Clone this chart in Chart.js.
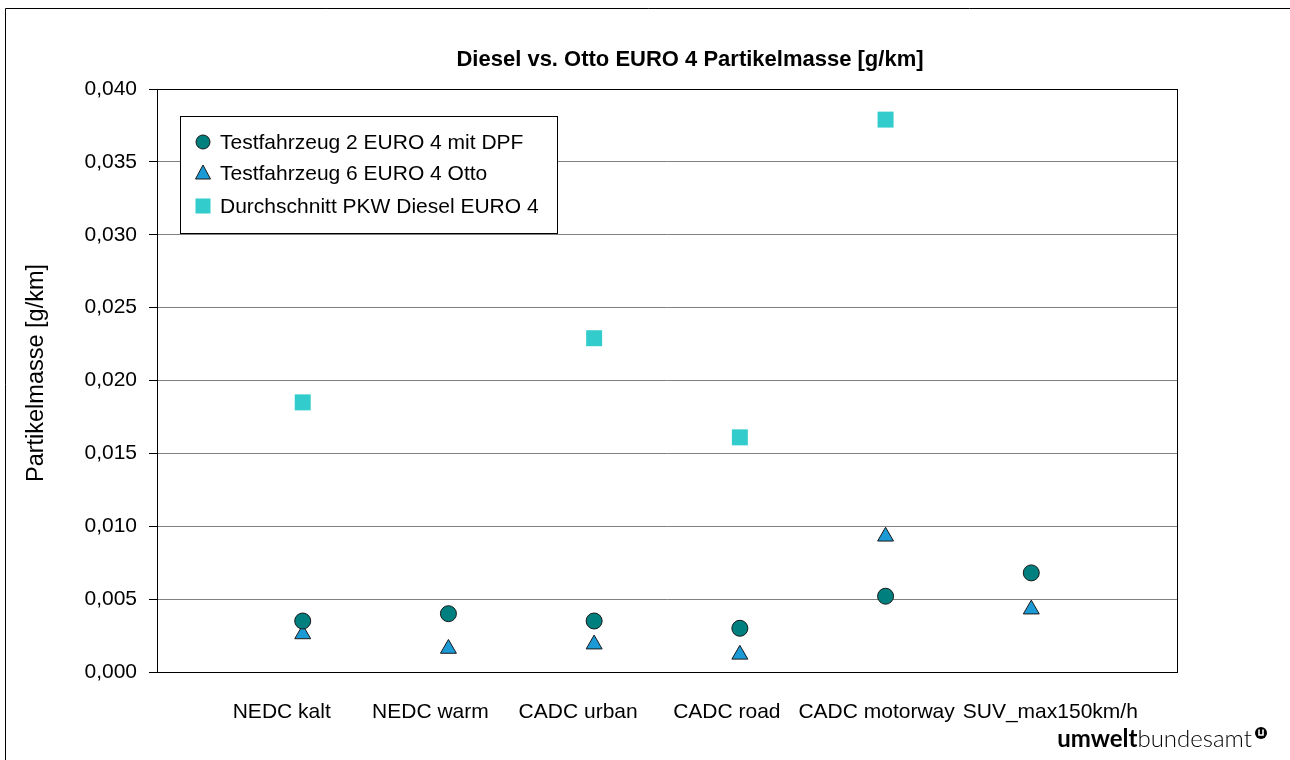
<!DOCTYPE html>
<html>
<head>
<meta charset="utf-8">
<script src="https://cdn.jsdelivr.net/npm/chart.js@4/dist/chart.umd.min.js"></script>
<style>
  html, body { margin: 0; padding: 0; background: #fff; }
  #wrap { width: 1290px; height: 760px; position: relative; }
</style>
</head>
<body>
<div id="wrap"><canvas id="c" width="1290" height="760"></canvas></div>
<script>
const categories = ["NEDC kalt", "NEDC warm", "CADC urban", "CADC road", "CADC motorway", "SUV_max150km/h"];
const seriesNames = ["Testfahrzeug 2 EURO 4 mit DPF", "Testfahrzeug 6 EURO 4 Otto", "Durchschnitt PKW Diesel EURO 4"];
const testfahrzeug2 = [0.0035, 0.0040, 0.0035, 0.0030, 0.0052, 0.0068];
const testfahrzeug6 = [0.0026, 0.0016, 0.0019, 0.0012, 0.0093, 0.0043];
const durchschnittDiesel = [0.0185, null, 0.0229, 0.0161, 0.0379, null];
const yTicks = [0, 0.005, 0.010, 0.015, 0.020, 0.025, 0.030, 0.035, 0.040];
const titleText = "Diesel vs. Otto EURO 4 Partikelmasse [g/km]";
const yTitleText = "Partikelmasse [g/km]";
// horizontal nudges of the category labels relative to their marker column (label layout only)
const labelNudge = [-21, -18, -16, -13, -9, 19];

const FONT = "'Liberation Sans', Arial, sans-serif";
const toPts = arr => arr.map((v, i) => ({ x: i + 1, y: v }));

const decor = {
  id: 'decor',
  beforeDraw(chart) {
    const ctx = chart.ctx;
    ctx.save();
    ctx.fillStyle = '#fff';
    ctx.fillRect(0, 0, chart.width, chart.height);
    ctx.strokeStyle = '#000';
    ctx.lineWidth = 1;
    ctx.beginPath();
    ctx.moveTo(5.5, 770); ctx.lineTo(5.5, 8.5); ctx.lineTo(1295, 8.5);
    ctx.stroke();
    ctx.restore();
  },
  afterDraw(chart) {
    const ctx = chart.ctx;
    const a = chart.chartArea;
    const xs = chart.scales.x;
    ctx.save();
    // plot area border
    ctx.strokeStyle = '#000';
    ctx.lineWidth = 1;
    ctx.strokeRect(Math.round(a.left) + 0.5, Math.round(a.top) + 0.5, Math.round(a.right - a.left), Math.round(a.bottom - a.top));
    // category labels
    ctx.fillStyle = '#000';
    ctx.font = "21px " + FONT;
    ctx.textAlign = 'center';
    ctx.textBaseline = 'middle';
    categories.forEach((c, i) => {
      ctx.fillText(c, xs.getPixelForValue(i + 1) + labelNudge[i], a.bottom + 40);
    });
    // title
    ctx.font = "bold 22px " + FONT;
    ctx.fillText(titleText, 690, 60);
    // y axis title
    ctx.save();
    ctx.translate(37, 373);
    ctx.rotate(-Math.PI / 2);
    ctx.font = "23.5px " + FONT;
    ctx.fillText(yTitleText, 0, 0);
    ctx.restore();
    // legend
    const lx = 180, ly = 116, lw = 377, lh = 117;
    ctx.fillStyle = '#fff';
    ctx.fillRect(lx, ly, lw, lh);
    ctx.strokeStyle = '#000';
    ctx.strokeRect(lx + 0.5, ly + 0.5, lw, lh);
    const ds = chart.data.datasets;
    const rows = [142, 173, 206];
    ctx.font = "21px " + FONT;
    ctx.textAlign = 'left';
    ctx.textBaseline = 'middle';
    ds.forEach((d, i) => {
      const y = rows[i];
      const x = 203;
      ctx.fillStyle = d.backgroundColor;
      ctx.strokeStyle = d.borderColor;
      ctx.lineWidth = d.borderWidth;
      if (d.pointStyle === 'circle') {
        ctx.beginPath(); ctx.arc(x, y, 7, 0, Math.PI * 2); ctx.fill(); ctx.stroke();
      } else if (d.pointStyle === 'triangle') {
        ctx.beginPath(); ctx.moveTo(x, y - 8); ctx.lineTo(x + 7.5, y + 6); ctx.lineTo(x - 7.5, y + 6); ctx.closePath(); ctx.fill(); ctx.stroke();
      } else {
        ctx.fillRect(x - 7.5, y - 7.5, 15, 15);
      }
      ctx.fillStyle = '#000';
      ctx.fillText(d.label, 220, y + 1);
    });
    // logo
    ctx.textBaseline = 'alphabetic';
    ctx.textAlign = 'left';
    const LF = "Lato, 'Noto Sans', sans-serif";
    ctx.font = "bold 24px " + LF;
    const w1 = ctx.measureText('umwelt').width;
    ctx.font = "300 24px " + LF;
    const w2 = ctx.measureText('bundesamt').width;
    const endX = 1252;
    const sx = endX - w1 - w2;
    ctx.fillStyle = '#000';
    ctx.font = "bold 24px " + LF;
    ctx.fillText('umwelt', sx, 747);
    ctx.font = "300 24px " + LF;
    ctx.fillText('bundesamt', sx + w1, 747);
    ctx.beginPath(); ctx.arc(1261, 733, 6, 0, Math.PI * 2); ctx.fill();
    ctx.strokeStyle = '#fff'; ctx.lineWidth = 1.6;
    ctx.beginPath(); ctx.moveTo(1259, 729.5); ctx.lineTo(1259, 735); ctx.lineTo(1263, 735); ctx.lineTo(1263, 729.5); ctx.stroke();
    ctx.restore();
  }
};

new Chart(document.getElementById('c'), {
  type: 'scatter',
  data: {
    datasets: [
      { label: seriesNames[0], data: toPts(testfahrzeug2), pointStyle: 'circle', pointRadius: 8, pointHoverRadius: 8,
        backgroundColor: '#007F7F', borderColor: '#1a1a1a', borderWidth: 1 },
      { label: seriesNames[1], data: toPts(testfahrzeug6), pointStyle: 'triangle', pointRadius: 9.2, pointHoverRadius: 9.2,
        backgroundColor: '#1B9AD6', borderColor: '#1a1a1a', borderWidth: 1 },
      { label: seriesNames[2], data: toPts(durchschnittDiesel), pointStyle: 'rect', pointRadius: 11.3, pointHoverRadius: 11.3,
        backgroundColor: '#33CCCC', borderColor: '#33CCCC', borderWidth: 0 }
    ]
  },
  options: {
    responsive: false,
    animation: false,
    events: [],
    layout: { padding: { left: 0, right: 113, top: 89, bottom: 0 } },
    plugins: { legend: { display: false }, title: { display: false }, tooltip: { enabled: false } },
    scales: {
      x: {
        type: 'linear', min: 0, max: 7,
        afterBuildTicks: s => { s.ticks = categories.map((c, i) => ({ value: i + 1 })); },
        afterFit: s => { s.height = 88; },
        ticks: { display: false },
        grid: { display: false, drawTicks: false },
        border: { color: '#000', width: 1 }
      },
      y: {
        min: 0, max: 0.04,
        afterBuildTicks: s => { s.ticks = yTicks.map(v => ({ value: v })); },
        afterFit: s => { s.width = 157; },
        ticks: { callback: v => v.toFixed(3).replace('.', ','), color: '#000', font: { family: FONT, size: 21 }, padding: 12 },
        grid: { color: '#808080', lineWidth: 1, tickLength: 8, tickColor: '#000' },
        border: { color: '#000', width: 1 }
      }
    }
  },
  plugins: [decor]
});
</script>
</body>
</html>
